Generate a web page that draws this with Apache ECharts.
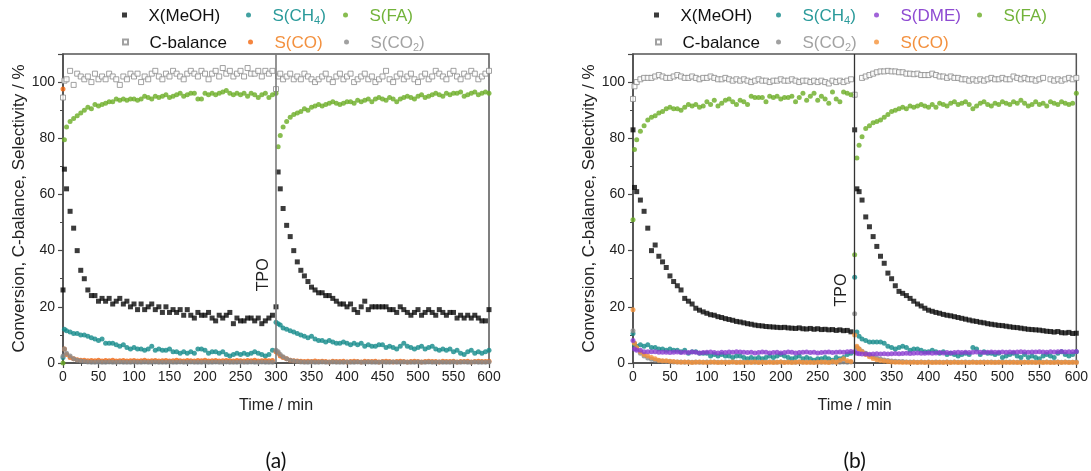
<!DOCTYPE html>
<html>
<head>
<meta charset="utf-8">
<script src="https://cdn.jsdelivr.net/npm/echarts@6/dist/echarts.min.js"></script>
<style>
html,body{margin:0;padding:0;background:#fff;}
#chart{width:1091px;height:471px;}
</style>
</head>
<body>
<div id="chart"></div>
<script>
// ---------- sampling times (min) ----------
const TIME1 = [0,2,5,10,15,20,25,30,35,40, 45,50,55,60,65,70,75,80,85,90, 95,100,105,110,115,120,125,130,135,140, 145,150,155,160,165,170,175,180,185,190, 195,200,205,210,215,220,225,230,235,240, 245,250,255,260,265,270,275,280,285,290, 295];
const TIME2 = [300,303,306,310,315,320,325,330,335,340, 345,350,355,360,365,370,375,380,385,390, 395,400,405,410,415,420,425,430,435,440, 445,450,455,460,465,470,475,480,485,490, 495,500,505,510,515,520,525,530,535,540, 545,550,555,560,565,570,575,580,585,590, 595,600];

// ---------- tick labels ----------
const X_TICKS = [0,50,100,150,200,250,300,350,400,450,500,550,600];
const Y_TICKS = [0,20,40,60,80,100];
const PANEL_LABELS = ['(a)', '(b)'];

// ---------- panel (a) ----------
const A_X1 = [26,69,62,54,48,40,33,30,26,24, 24,22,23,22,23,21,22,23,21,22, 20,21,19,21,19,20,21,19,20,18, 20,18,19,18,19,17,19,17,16,18, 17,17,18,16,15,17,16,17,18,14, 16,15,15,16,16,15,16,14,15,16, 17];
const A_X2 = [20,68,62,55,49,45,40,36,33,31, 29,27,26,25,25,24,24,23,22,21, 21,20,21,19,18,20,22,19,20,20, 20,20,20,19,19,18,20,19,18,17, 18,19,17,18,19,18,17,19,18,17, 18,18,16,17,16,17,16,17,16,15, 15,19];
const A_C1 = [94.5,100.5,101,104,99,103,102,101,102,100, 103,101,102,101,103,102,101,99,102,101, 103,102,103,100,102,101,103,104,102,101, 103,102,104,103,102,101,103,104,103,102, 104,103,101,103,104,102,105,103,104,102, 103,104,102,105,103,103,104,102,104,103, 104];
const A_C2 = [97.5,102,103,101,102,103,101,102,101,103, 102,101,100,101,102,103,101,100,102,103, 101,102,103,100,101,102,103,101,102,100, 101,102,104,101,100,102,103,101,102,103, 101,100,102,103,101,102,104,103,102,101, 103,104,102,101,103,102,104,103,101,102, 103,104];
const A_FA1 = [0,79.5,84,86,87,88,89,90,91,90.5, 92,91.5,92,92.5,93,93,94,93.5,94,93.5, 94,94,93.5,94,95,94.5,94,95,94.5,95, 95.5,94.5,95,95.5,96,95,95.5,96,96,94, 94,96,95.5,96,95.5,96,96.5,97,96,95.5, 96,95.5,96,95,96,95.5,94.5,95.5,96,94.5, 95.5];
const A_FA2 = [96,77,81,84,86,87.5,88.5,89,89.5,90.5, 90,91,91.5,92,91.5,92,92.5,93,92.5,92, 92.5,93,93,92.5,93.5,93,93.5,94,93,94, 94.5,94,93.5,94.5,94,93,94,94.5,95,94.5, 94,95,95.5,94.5,95,95.5,96,95.5,95,96, 95.5,96,96,96.5,95,95.5,96,96.5,95.5,96, 96.5,96];
const A_CH4_1 = [2,12,11.5,11,10.5,10.5,10,10,9.5,9, 8.5,8,8.5,7,7,7,6.5,6,6.5,5.5, 5,5.5,5,5,4.5,5,6,4.5,5,4.5, 4.5,5,4,4,3.5,4,3.5,4,3.5,5, 5,4.5,3.5,4,4,3.5,4,3,2.5,3, 3.5,3,3.5,3,3.5,4,3.5,3,2.5,3, 4.5];
const A_CH4_2 = [14.5,14,13.5,12.5,12,11.5,11,10.5,10,9.5, 9,9.5,8.5,8,8,7.5,8,7.5,7,7, 7.5,7,6.5,7,6.5,7,6,6.5,6,6, 6.5,6.5,5.5,6,5.5,5,6,7,6,5.5, 5,5.5,6,5,5.5,6,5,4.5,5,4.5, 5,4,4.5,3.5,3,4,4.5,3.5,4,3.5, 4,4.5];
const A_CO_1 = [97.5,5,3,2,1.5,1.2,1,1,0.8,0.9, 0.8,1,0.7,0.9,0.8,1,0.7,0.8,0.9,0.7, 0.8,0.9,0.7,0.8,1,0.7,0.8,0.9,0.7,0.8, 0.9,0.7,0.8,1,0.8,0.7,0.9,0.8,0.7,0.9, 0.8,1,0.7,0.8,0.9,0.7,0.8,0.9,0.8,0.7, 0.9,0.8,0.7,0.9,0.8,1,0.7,0.8,0.9,0.8, 0.9];
const A_CO_2 = [4,3.5,2.5,2,1.5,1,0.8,0.7,0.6,0.5, 0.6,0.5,0.7,0.5,0.6,0.5,0.4,0.6,0.5,0.5, 0.6,0.4,0.5,0.6,0.5,0.4,0.6,0.5,0.5,0.6, 0.4,0.5,0.6,0.5,0.4,0.5,0.6,0.5,0.4,0.5, 0.6,0.5,0.4,0.5,0.6,0.5,0.5,0.4,0.6,0.5, 0.5,0.6,0.4,0.5,0.5,0.6,0.4,0.5,0.6,0.5, 0.5,0.6];
const A_CO2_1 = [2.5,5,3.5,2.5,1.5,1,0.7,0.5,0.4,0.3, 0.3,0.4,0.3,0.3,0.4,0.3,0.3,0.4,0.3,0.3, 0.3,0.4,0.3,0.3,0.4,0.3,0.3,0.4,0.3,0.3, 0.3,0.4,0.3,0.3,0.4,0.3,0.3,0.4,0.3,0.3, 0.3,0.4,0.3,0.3,0.4,0.3,0.3,0.4,0.3,0.3, 0.3,0.4,0.3,0.3,0.4,0.3,0.3,0.4,0.3,0.3, 0.3];
const A_CO2_2 = [4.5,4,3,2.2,1.5,1,0.7,0.5,0.4,0.3, 0.3,0.4,0.3,0.3,0.4,0.3,0.3,0.4,0.3,0.3, 0.3,0.4,0.3,0.3,0.4,0.3,0.3,0.4,0.3,0.3, 0.3,0.4,0.3,0.3,0.4,0.3,0.3,0.4,0.3,0.3, 0.3,0.4,0.3,0.3,0.4,0.3,0.3,0.4,0.3,0.3, 0.3,0.4,0.3,0.3,0.4,0.3,0.3,0.4,0.3,0.3, 0.3,0.4];

// ---------- panel (b) ----------
const B_X1 = [83,62.5,61,58,54,48,40,42,38,36, 34,31,29,27.5,26,23,22,21,19.5,18.8, 18.2,17.7,17.2,17,16.5,16.2,15.8,15.5,15.2,14.8, 14.6,14.3,14,13.8,13.5,13.3,13.2,13,12.9,12.8, 12.7,12.6,12.7,12.5,12.4,12.3,12.5,12.2,12.1,12.3, 12,12.2,11.9,12,11.8,11.9,11.6,11.8,11.5,11.6, 11.1];
const B_X2 = [83,62,61,58,52,48.5,45,41.5,38,35.5, 32,30,27.5,25.5,24.8,24,23,22,21,20.3, 19.5,18.8,18.4,18,17.7,17.3,17,16.8,16.5,16.2, 15.9,15.6,15.3,15,14.8,14.5,14.3,14,13.8,13.6, 13.4,13.3,13.1,12.9,12.7,12.6,12.4,12.2,12,11.9, 11.8,11.7,11.5,11.3,11.2,11,11.2,10.8,10.7,10.9, 10.5,10.6];
const B_C1 = [94,98.5,100,101,101.5,101.5,101.5,102,102.5,102, 101.5,101.5,102,102.5,102,101.5,101.5,102,101.5,101, 101.5,101.5,102,101.5,101,101,101.5,101,100.5,101, 100.5,101,100.5,100,100.5,101,100.5,100.5,100,100.5, 100.5,101,100.5,100.5,101,100.5,100,100.5,100.5,100, 100.5,100,100.5,100,99.5,100.5,100,100.5,100,100.5, 101];
const B_C2 = [95.5,null,null,101.5,102,102.5,103,103.5,103.8,103.8, 104,103.8,103.8,103.5,103.5,103,103,102.8,103,102.5, 102.5,102.5,103,102.5,102,102,101.5,102,101.5,101.5, 101,101,100.5,101,100.5,101,100.5,101,101.5,101, 101,101.5,101,101,102,101.5,101,101.5,101,101, 100.5,101,101.5,null,101,100.5,101,100.5,101,101.5, 101,101.5];
const B_FA1 = [51,76,79.5,82.5,84.5,86.5,87.5,88,89,89.5, 90.5,91,90.5,90.5,90,91,92,91.5,92,91, 91.5,93,92,93.5,91.5,92.5,93.5,94,93,92, 93.5,93,92,95,94.5,94.5,94.5,93,95,94.5, 95,94,94.5,94.5,95,93,94.5,96,93.5,95, 96,93.5,95,94,92.5,96.5,94,93,96.5,96, 95.5];
const B_FA2 = [38.5,73,77.5,80.5,83.5,84.5,85.5,86,86.5,87.5, 88.5,89.5,90,90.5,91,90.5,91.5,91,91.5,92, 91.5,91,92,91,92.5,92,91.5,92.5,93,92, 92.5,93,92,90.5,91.5,92.5,93,92,91.5,92.5, 92,93,92.5,92,93,92.5,93.5,92.5,91.5,92, 93,92,92.5,91.5,93,92.5,92,93,92.5,92, 92.5,96];
const B_CH4_1 = [10.5,6.5,6,6.5,6,6.5,5.5,5.5,5,5, 4.5,5,4.5,4.5,4,4.5,3.5,4,4,3.5, 3.5,3.5,2.5,3,2.5,3,2.5,2.5,2,2.5, 2.5,2,1.5,2,1.5,2,1.5,2,2.5,2, 2.5,3,2.5,2,1.5,2,2.5,1.5,2,1.5, 1,1.5,1.5,2,1.5,1,2,1.5,2,3, 3.5];
const B_CH4_2 = [30.5,11,9.5,8.5,8,7.5,7.5,7.5,7.5,7, 6,5.5,5,5.5,6,5.5,4.5,5,5,4.5, 4,4,4.5,4,3.5,4,3,3.5,3,2.5, 3,3.5,3,5.5,5,3,4,3.5,3.5,3, 3.5,2,2.5,3,3.5,2.5,2,3,2,2.5, 2,1.5,2.5,3,2.5,2,3.5,4,3,2.5, 3,4];
const B_DME_1 = [8,5,4.5,4.5,4,4,4,4,3.8,3.8, 3.8,3.7,3.8,3.9,3.7,3.8,3.7,3.9,3.8,3.6, 3.7,3.8,3.9,3.7,3.6,3.8,3.7,3.9,3.8,4, 3.9,3.8,3.7,3.8,3.6,3.7,3.9,3.8,3.6,3.7, 3.8,3.6,3.7,3.9,3.8,3.6,3.7,3.8,3.9,3.7, 3.8,3.6,3.7,3.8,3.9,3.7,3.8,3.9,3.8,4, 4.1];
const B_DME_2 = [4,3.5,3.3,3.2,3.2,3.1,3.2,3.3,3.2,3.3, 3.2,3.3,3.4,3.3,3.4,3.5,3.4,3.5,3.6,3.5, 3.5,3.6,3.5,3.6,3.7,3.6,3.7,3.6,3.7,3.8, 3.7,3.8,3.7,3.8,3.9,3.8,3.7,3.8,3.9,3.8, 3.8,3.9,3.8,3.9,3.8,3.9,4,3.9,3.8,3.9, 3.9,4,3.9,3.8,4,3.9,4,4.1,3.9,4, 4,4.1];
const B_CO_1 = [19,7,5.5,4,3,2.5,2,1.5,1,0.8, 0.8,0.6,0.5,0.4,0.3,0.4,0.3,0.2,0.3,0.4, 0.3,0.2,0.4,0.3,0.2,0.3,0.2,0.3,0.4,0.2, 0.3,0.2,0.3,0.2,0.4,0.2,0.3,0.2,0.3,0.2, 0.3,0.4,0.2,0.3,0.2,0.3,0.4,0.3,0.2,0.3, 0.2,0.3,0.4,0.3,0.2,0.5,0.3,1,1.5,0.8, 0.5];
const B_CO_2 = [10,6,5,4,3,2.2,1.6,1.2,0.9,0.7, 0.5,0.4,0.3,0.3,0.2,0.3,0.2,0.3,0.2,0.3, 0.2,0.3,0.2,0.2,0.3,0.2,0.3,0.2,0.3,0.2, 0.3,0.2,0.2,0.3,0.2,0.3,0.2,0.3,0.2,0.2, 0.3,0.2,0.3,0.2,0.3,0.2,0.2,0.3,0.2,0.3, 0.2,0.3,0.2,0.3,0.2,0.2,0.3,0.2,0.3,0.2, 0.3,0.2];
const B_CO2_1 = [11.5,7,5,3.5,2.5,1.8,1.3,1,0.8,0.6, 0.5,0.5,0.4,0.4,0.4,0.3,0.4,0.3,0.4,0.3, 0.3,0.4,0.3,0.4,0.3,0.3,0.4,0.3,0.4,0.3, 0.3,0.4,0.3,0.4,0.3,0.3,0.4,0.3,0.4,0.3, 0.3,0.4,0.3,0.4,0.3,0.3,0.4,0.3,0.4,0.3, 0.3,0.4,0.3,0.4,0.3,0.3,0.4,0.3,0.4,0.3, 0.4];
const B_CO2_2 = [17.5,5.5,5,4.2,3.5,2.8,2.2,1.8,1.4,1.1, 0.9,0.7,0.6,0.5,0.5,0.4,0.4,0.4,0.3,0.4, 0.3,0.4,0.3,0.4,0.3,0.3,0.4,0.3,0.4,0.3, 0.3,0.4,0.3,0.4,0.3,0.3,0.4,0.3,0.4,0.3, 0.3,0.4,0.3,0.4,0.3,0.3,0.4,0.3,0.4,0.3, 0.3,0.4,0.3,0.4,0.3,0.3,0.4,0.3,0.4,0.3, 0.3,0.4];

// ---------- build ----------
const TIME = TIME1.concat(TIME2);
function pairs(v1, v2) {
  const v = v1.concat(v2), out = [];
  for (let i = 0; i < TIME.length; i++) if (v[i] != null) out.push([TIME[i], v[i]]);
  return out;
}
const FONT = "'Liberation Sans', Arial, Helvetica, sans-serif";
const AX = '#4a4a4a';
const SQUARE = 'path://M0,0L10,0L10,10L0,10Z';

function sc(name, panel, symbol, color, data, extra) {
  return Object.assign({
    type: 'scatter', name: name, xAxisIndex: panel, yAxisIndex: panel,
    symbol: symbol, symbolSize: 5, data: data, silent: true,
    itemStyle: { color: color }, animation: false
  }, extra || {});
}
const vline = (color, w) => ({
  silent: true, symbol: ['none', 'none'], label: { show: false },
  lineStyle: { color: color, width: w, type: 'solid' }, data: [{ xAxis: 300 }], animation: false
});
const cbalStyle = { color: '#fff', borderColor: '#8a8a8a', borderWidth: 1 };

const series = [
  sc('a:C-balance', 0, 'rect', '#fff', pairs(A_C1, A_C2), { itemStyle: cbalStyle, markLine: vline('#7a7a7a', 1.6) }),
  sc('a:S(FA)', 0, 'circle', '#6aad24', pairs(A_FA1, A_FA2)),
  sc('a:X(MeOH)', 0, 'rect', '#0a0a0a', pairs(A_X1, A_X2)),
  sc('a:S(CH4)', 0, 'circle', '#13898a', pairs(A_CH4_1, A_CH4_2)),
  sc('a:S(CO)', 0, 'circle', '#f2670f', pairs(A_CO_1, A_CO_2)),
  sc('a:S(CO2)', 0, 'circle', '#8a8a8a', pairs(A_CO2_1, A_CO2_2)),

  sc('b:C-balance', 1, 'rect', '#fff', pairs(B_C1, B_C2), { itemStyle: cbalStyle, markLine: vline('#333', 1.3) }),
  sc('b:S(FA)', 1, 'circle', '#6aad24', pairs(B_FA1, B_FA2)),
  sc('b:X(MeOH)', 1, 'rect', '#0a0a0a', pairs(B_X1, B_X2)),
  sc('b:S(CH4)', 1, 'circle', '#13898a', pairs(B_CH4_1, B_CH4_2)),
  sc('b:S(CO2)', 1, 'circle', '#8a8a8a', pairs(B_CO2_1, B_CO2_2)),
  sc('b:S(CO)', 1, 'circle', '#f5923a', pairs(B_CO_1, B_CO_2)),
  sc('b:S(DME)', 1, 'circle', '#8a3cd0', pairs(B_DME_1, B_DME_2))
];

// legend entries: [series name, label rich text, text colour, icon centre x, row, icon]
const LEG = [
  ['a:X(MeOH)', '{n|X(MeOH)}', '#111', 124, 0, SQUARE],
  ['a:S(CH4)', '{n|S(CH}{s|4}{n|)}', '#2a9a9a', 248, 0, 'circle'],
  ['a:S(FA)', '{n|S(FA)}', '#72b33a', 345, 0, 'circle'],
  ['a:C-balance', '{n|C-balance}', '#111', 124, 1, SQUARE],
  ['a:S(CO)', '{n|S(CO)}', '#f3913f', 250, 1, 'circle'],
  ['a:S(CO2)', '{n|S(CO}{s|2}{n|)}', '#a3a3a3', 346, 1, 'circle'],
  ['b:X(MeOH)', '{n|X(MeOH)}', '#111', 656, 0, SQUARE],
  ['b:S(CH4)', '{n|S(CH}{s|4}{n|)}', '#2a9a9a', 778, 0, 'circle'],
  ['b:S(DME)', '{n|S(DME)}', '#8e4ad2', 876, 0, 'circle'],
  ['b:S(FA)', '{n|S(FA)}', '#72b33a', 979, 0, 'circle'],
  ['b:C-balance', '{n|C-balance}', '#111', 657, 1, SQUARE],
  ['b:S(CO2)', '{n|S(CO}{s|2}{n|)}', '#a3a3a3', 778, 1, 'circle'],
  ['b:S(CO)', '{n|S(CO)}', '#f3913f', 876, 1, 'circle']
];
const ROW_TOP = [8, 35];
const legends = LEG.map(l => ({
  data: [{ name: l[0], icon: l[5] }], left: l[3] - 2, top: ROW_TOP[l[4]], padding: 0,
  itemWidth: 38, itemHeight: 5, selectedMode: false, symbolKeepAspect: true,
  formatter: () => l[1],
  textStyle: {
    color: l[2], fontFamily: FONT, fontSize: 17,
    rich: {
      n: { color: l[2], fontFamily: FONT, fontSize: 17, lineHeight: 20, verticalAlign: 'bottom' },
      s: { color: l[2], fontFamily: FONT, fontSize: 11, lineHeight: 20, verticalAlign: 'bottom', padding: [0, 0, -1, 0] }
    }
  }
}));

function xAx(i) {
  return {
    type: 'value', gridIndex: i, min: 0, max: 600, interval: 50,
    axisLine: { show: true, onZero: false, lineStyle: { color: AX, width: 1.5 } },
    axisTick: { show: true, inside: false, length: 5, lineStyle: { color: AX, width: 1.2 } },
    minorTick: { show: true, splitNumber: 2, length: 3, lineStyle: { color: AX, width: 1 } },
    splitLine: { show: false }, minorSplitLine: { show: false },
    axisLabel: { fontFamily: FONT, fontSize: 14, color: '#222', margin: 7,
      formatter: v => (X_TICKS.indexOf(v) >= 0 ? String(v) : '') },
    name: 'Time / min', nameLocation: 'middle', nameGap: 35,
    nameTextStyle: { fontFamily: FONT, fontSize: 16, color: '#222' }
  };
}
function yAx(i) {
  return {
    type: 'value', gridIndex: i, min: 0, max: 110, interval: 20,
    axisLine: { show: true, onZero: false, lineStyle: { color: AX, width: 1.5 } },
    axisTick: { show: true, inside: false, length: 5, lineStyle: { color: AX, width: 1.2 } },
    minorTick: { show: true, splitNumber: 2, length: 3, lineStyle: { color: AX, width: 1 } },
    splitLine: { show: false }, minorSplitLine: { show: false },
    axisLabel: { fontFamily: FONT, fontSize: 14, color: '#222', margin: 8, showMaxLabel: false,
      formatter: v => (Y_TICKS.indexOf(v) >= 0 ? String(v) : '') },
    name: 'Conversion, C-balance, Selectivity / %', nameLocation: 'middle', nameGap: 28,
    nameTextStyle: { fontFamily: FONT, fontSize: 17, color: '#222' }
  };
}

const chart = echarts.init(document.getElementById('chart'), null, { renderer: 'canvas', width: 1091, height: 471 });
chart.setOption({
  animation: false,
  backgroundColor: '#fff',
  grid: [
    { left: 63, right: 602, top: 54, bottom: 108, show: true, borderColor: '#555', borderWidth: 1.5, backgroundColor: 'transparent' },
    { left: 633, right: 14, top: 54, bottom: 108, show: true, borderColor: '#555', borderWidth: 1.5, backgroundColor: 'transparent' }
  ],
  xAxis: [xAx(0), xAx(1)],
  yAxis: [yAx(0), yAx(1)],
  legend: legends,
  series: series
});

// annotations positioned through the axes' own scales
const TPO_AT = [[283, 31.4], [282, 26]];
const graphics = [];
[0, 1].forEach(i => {
  const p = chart.convertToPixel({ gridIndex: i }, TPO_AT[i]);
  graphics.push({ type: 'text', x: p[0], y: p[1], rotation: Math.PI / 2,
    style: { text: 'TPO', fontFamily: FONT, fontSize: 16, fill: '#222', align: 'center', verticalAlign: 'middle' } });
  const cx = chart.convertToPixel({ xAxisIndex: i }, 300);
  graphics.push({ type: 'text', x: cx, y: 461,
    style: { text: PANEL_LABELS[i], fontFamily: "Lato, 'Open Sans', sans-serif", fontSize: 21, fill: '#111', align: 'center', verticalAlign: 'middle' } });
});
chart.setOption({ graphic: graphics });
</script>
</body>
</html>
